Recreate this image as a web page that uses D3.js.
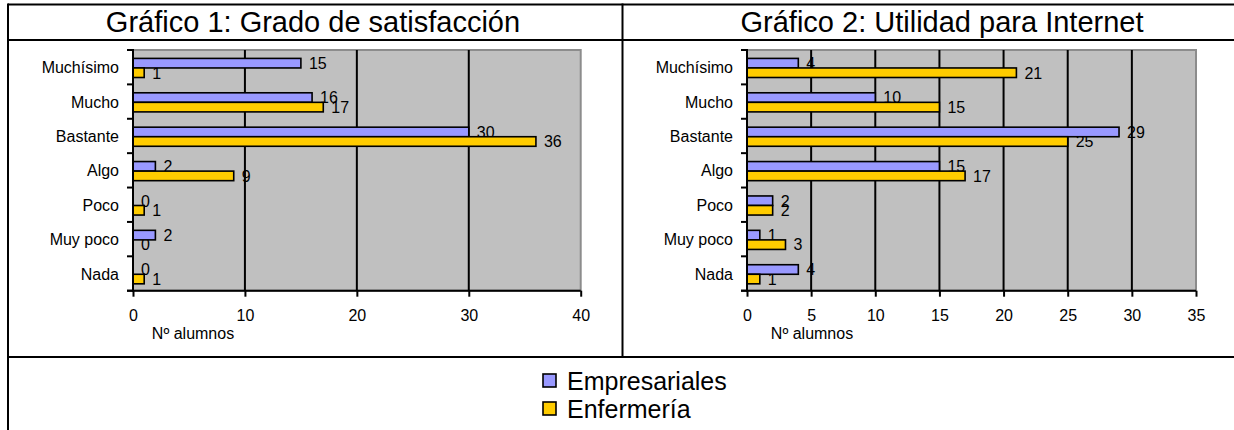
<!DOCTYPE html>
<html>
<head>
<meta charset="utf-8">
<script src="https://cdn.jsdelivr.net/npm/d3@7"></script>
<style>
  html, body { margin: 0; padding: 0; background: #fff; }
  svg { display: block; }
  text { font-family: "Liberation Sans", Arial, sans-serif; fill: #000; }
</style>
</head>
<body>
<svg id="chart" width="1234" height="430"></svg>
<script>
const categories = ["Muchísimo", "Mucho", "Bastante", "Algo", "Poco", "Muy poco", "Nada"];
const seriesNames = ["Empresariales", "Enfermería"];
const seriesColors = ["#9999ff", "#ffcc00"];

const chart1Title = "Gráfico 1: Grado de satisfacción";
const chart1Empresariales = [15, 16, 30, 2, 0, 2, 0];
const chart1Enfermeria = [1, 17, 36, 9, 1, 0, 1];
const chart1Ticks = [0, 10, 20, 30, 40];

const chart2Title = "Gráfico 2: Utilidad para Internet";
const chart2Empresariales = [4, 10, 29, 15, 2, 1, 4];
const chart2Enfermeria = [21, 15, 25, 17, 2, 3, 1];
const chart2Ticks = [0, 5, 10, 15, 20, 25, 30, 35];

const axisTitle = "Nº alumnos";

const svg = d3.select("#chart");

// Table frame
const frame = svg.append("g").attr("stroke", "#000").attr("stroke-width", 2);
frame.append("line").attr("x1", 8).attr("x2", 1234).attr("y1", 4.5).attr("y2", 4.5);
frame.append("line").attr("x1", 8).attr("x2", 1234).attr("y1", 40).attr("y2", 40);
frame.append("line").attr("x1", 8).attr("x2", 1234).attr("y1", 357).attr("y2", 357);
frame.append("line").attr("x1", 8).attr("x2", 8).attr("y1", 3.5).attr("y2", 430);
frame.append("line").attr("x1", 622.5).attr("x2", 622.5).attr("y1", 3.5).attr("y2", 357);

function drawChart(cfg) {
  const g = svg.append("g");
  const values = [cfg.emp, cfg.enf];
  const x = d3.scaleLinear().domain([0, cfg.max]).range([cfg.left, cfg.right]);
  const y = d3.scaleBand().domain(categories).range([50, 290.7]).padding(0);
  const ys = d3.scaleBand().domain(seriesNames).range([0, y.bandwidth()])
    .paddingInner(0).paddingOuter(0.8).align(0.55);

  // title
  g.append("text").attr("x", cfg.titleX).attr("y", 31.5)
    .attr("text-anchor", "middle").attr("font-size", 29).text(cfg.title);

  // plot background
  g.append("rect").attr("x", x(0)).attr("y", 50)
    .attr("width", x(cfg.max) - x(0)).attr("height", 240.7)
    .attr("fill", "#c0c0c0").attr("stroke", "#8c8c8c").attr("stroke-width", 2);

  // gridlines
  g.append("g").selectAll("line").data(cfg.ticks.filter(t => t > 0 && t < cfg.max)).join("line")
    .attr("x1", d => x(d)).attr("x2", d => x(d)).attr("y1", 50).attr("y2", 290.7)
    .attr("stroke", "#000").attr("stroke-width", 2);

  // data labels (drawn under bars)
  const lab = g.append("g").attr("font-size", 16);
  seriesNames.forEach((s, si) => {
    lab.selectAll(null).data(categories).join("text")
      .attr("x", (c, i) => x(values[si][i]) + 8)
      .attr("y", c => y(c) + ys(s) + ys.bandwidth() / 2 + 5.8)
      .text((c, i) => values[si][i]);
  });

  // bars
  seriesNames.forEach((s, si) => {
    g.append("g").selectAll("rect").data(categories).join("rect")
      .attr("x", x(0))
      .attr("y", c => y(c) + ys(s))
      .attr("width", (c, i) => x(values[si][i]) - x(0))
      .attr("height", ys.bandwidth())
      .attr("fill", seriesColors[si])
      .attr("stroke", "#000").attr("stroke-width", 1.6);
  });

  // x axis
  const xAxis = d3.axisBottom(x).tickValues(cfg.ticks).tickSize(6).tickPadding(13).tickSizeOuter(0);
  const xa = g.append("g").attr("transform", "translate(0,290.7)").call(xAxis);
  xa.select(".domain").attr("stroke-width", 2).attr("d", `M${x(0) - 6},0H${x(cfg.max)}`);
  xa.selectAll(".tick line").attr("stroke-width", 2);
  xa.selectAll(".tick text").attr("font-size", 16).attr("font-family", "Liberation Sans, Arial, sans-serif");

  // y axis: ticks at category boundaries
  const bounds = categories.map(c => y(c)).concat([290.7]);
  g.append("line").attr("x1", x(0)).attr("x2", x(0)).attr("y1", 49).attr("y2", 291.7)
    .attr("stroke", "#000").attr("stroke-width", 2);
  g.append("g").selectAll("line").data(bounds).join("line")
    .attr("x1", x(0) - 6).attr("x2", x(0)).attr("y1", d => d).attr("y2", d => d)
    .attr("stroke", "#000").attr("stroke-width", 2);
  g.append("g").selectAll("text").data(categories).join("text")
    .attr("x", x(0) - 14).attr("y", c => y(c) + y.bandwidth() / 2 + 6)
    .attr("text-anchor", "end").attr("font-size", 16).text(c => c);

  // axis title
  g.append("text").attr("x", cfg.axisTitleX).attr("y", 339)
    .attr("text-anchor", "middle").attr("font-size", 16).text(axisTitle);
}

drawChart({ title: chart1Title, titleX: 313, emp: chart1Empresariales, enf: chart1Enfermeria,
  max: 40, ticks: chart1Ticks, left: 133, right: 580.7, axisTitleX: 193 });
drawChart({ title: chart2Title, titleX: 942, emp: chart2Empresariales, enf: chart2Enfermeria,
  max: 35, ticks: chart2Ticks, left: 747, right: 1196, axisTitleX: 812 });

// legend
const legend = svg.append("g");
seriesNames.forEach((s, i) => {
  legend.append("rect").attr("x", 543).attr("y", 374 + i * 28).attr("width", 13).attr("height", 13)
    .attr("fill", seriesColors[i]).attr("stroke", "#000").attr("stroke-width", 1.6);
  legend.append("text").attr("x", 567).attr("y", 390 + i * 28)
    .attr("font-size", 25).text(s);
});
</script>
</body>
</html>
